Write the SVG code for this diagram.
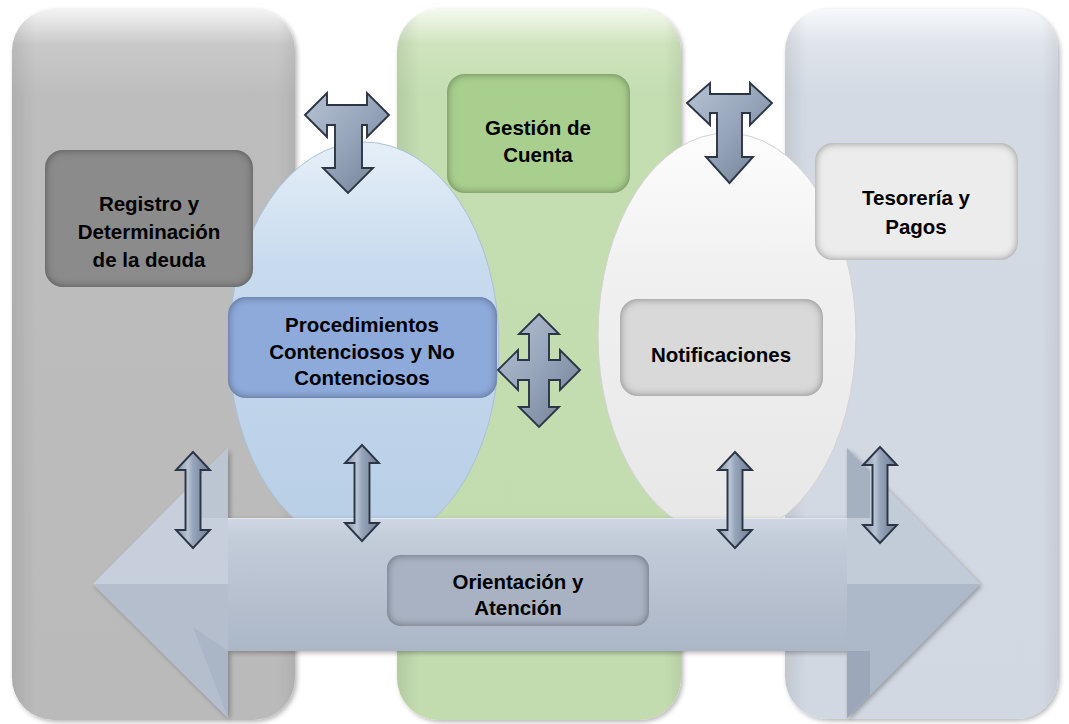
<svg xmlns="http://www.w3.org/2000/svg" xmlns:xlink="http://www.w3.org/1999/xlink" width="1069" height="724" viewBox="0 0 1069 724">
<style>
text{font-family:"Liberation Sans",Arial,sans-serif;font-weight:bold;font-size:20.5px;fill:#000;text-anchor:middle}
.arr{stroke:#2c3545;stroke-width:1.9;stroke-linejoin:miter}
.box{filter:url(#inset)}
</style>
<defs>
<linearGradient id="c1" x1="0" y1="0" x2="0" y2="1">
<stop offset="0" stop-color="#f4f4f4"/><stop offset="0.05" stop-color="#c9c9c9"/><stop offset="0.12" stop-color="#bdbdbd"/><stop offset="1" stop-color="#bababa"/>
</linearGradient>
<linearGradient id="c2" x1="0" y1="0" x2="0" y2="1">
<stop offset="0" stop-color="#f4f9ef"/><stop offset="0.05" stop-color="#cfe4be"/><stop offset="0.12" stop-color="#c4ddb1"/><stop offset="1" stop-color="#c3dcaf"/>
</linearGradient>
<linearGradient id="c3" x1="0" y1="0" x2="0" y2="1">
<stop offset="0" stop-color="#f7f9fb"/><stop offset="0.05" stop-color="#dfe4eb"/><stop offset="0.12" stop-color="#d4dae3"/><stop offset="1" stop-color="#d2d8e1"/>
</linearGradient>
<linearGradient id="side" x1="0" y1="0" x2="1" y2="0">
<stop offset="0" stop-color="#000" stop-opacity="0.08"/><stop offset="0.08" stop-color="#000" stop-opacity="0"/><stop offset="0.94" stop-color="#000" stop-opacity="0"/><stop offset="1" stop-color="#000" stop-opacity="0.06"/>
</linearGradient>
<linearGradient id="eb" x1="0" y1="0" x2="0" y2="1">
<stop offset="0" stop-color="#e6eff8"/><stop offset="0.3" stop-color="#c8dbee"/><stop offset="1" stop-color="#b7cee6"/>
</linearGradient>
<linearGradient id="ew" x1="0" y1="0" x2="0" y2="1">
<stop offset="0" stop-color="#fdfdfd"/><stop offset="0.35" stop-color="#f0f0f0"/><stop offset="1" stop-color="#e7e7e7"/>
</linearGradient>
<linearGradient id="mv" x1="0" y1="0" x2="1" y2="0">
<stop offset="0" stop-color="#8391a7"/><stop offset="0.35" stop-color="#b9c5d5"/><stop offset="0.5" stop-color="#97a5ba"/><stop offset="1" stop-color="#6d7a91"/>
</linearGradient>
<linearGradient id="md" x1="0" y1="0" x2="1" y2="1">
<stop offset="0" stop-color="#b6c2d3"/><stop offset="0.5" stop-color="#96a4b9"/><stop offset="1" stop-color="#6f7c93"/>
</linearGradient>
<linearGradient id="shaft" gradientUnits="userSpaceOnUse" x1="0" y1="518" x2="0" y2="651">
<stop offset="0" stop-color="#cfd7e2"/><stop offset="0.15" stop-color="#c3ccd9"/><stop offset="1" stop-color="#abb6c7"/>
</linearGradient>
<filter id="inset" x="-10%" y="-10%" width="120%" height="120%">
<feFlood flood-color="#000" flood-opacity="0.8" result="f"/>
<feComposite in="f" in2="SourceAlpha" operator="out" result="o"/>
<feGaussianBlur in="o" stdDeviation="4.5" result="b"/>
<feComposite in="b" in2="SourceAlpha" operator="in" result="s"/>
<feMerge><feMergeNode in="SourceGraphic"/><feMergeNode in="s"/></feMerge>
</filter>
<filter id="sh" x="-10%" y="-10%" width="120%" height="120%">
<feGaussianBlur in="SourceAlpha" stdDeviation="2.5"/>
<feOffset dx="2" dy="2" result="b"/>
<feComponentTransfer><feFuncA type="linear" slope="0.3"/></feComponentTransfer>
<feMerge><feMergeNode/><feMergeNode in="SourceGraphic"/></feMerge>
</filter>
<path id="dv" d="M0,-48 L17,-30 L7.5,-30 L7.5,30 L17,30 L0,48 L-17,30 L-7.5,30 L-7.5,-30 L-17,-30 Z"/>
</defs>

<g id="col-registro">
<rect x="12" y="9" width="283" height="711" rx="42" fill="url(#c1)" filter="url(#sh)"/>
<rect x="12" y="9" width="283" height="711" rx="42" fill="url(#side)"/>
</g>
<g id="col-gestion">
<rect x="397" y="9" width="284" height="711" rx="42" fill="url(#c2)" filter="url(#sh)"/>
<rect x="397" y="9" width="284" height="711" rx="42" fill="url(#side)"/>
</g>
<g id="col-tesoreria">
<rect x="785" y="9" width="273" height="710" rx="42" fill="url(#c3)" filter="url(#sh)"/>
<rect x="785" y="9" width="273" height="710" rx="42" fill="url(#side)"/>
</g>

<g id="ellipse-procedimientos">
<ellipse cx="364" cy="345" rx="135" ry="203" fill="url(#eb)" stroke="#a9c0d8" stroke-width="1"/>
</g>
<g id="ellipse-notificaciones">
<ellipse cx="727" cy="335" rx="129" ry="202" fill="url(#ew)" stroke="#d2d2d2" stroke-width="1"/>
</g>

<g id="registro">
<rect class="box" x="45" y="150" width="208" height="137" rx="18" fill="#8b8b8b"/>
<text x="149" y="211">Registro y</text>
<text x="149" y="239">Determinación</text>
<text x="149" y="267">de la deuda</text>
</g>
<g id="gestion">
<rect class="box" x="447" y="74" width="183" height="119" rx="18" fill="#a9cf8e"/>
<text x="538" y="135">Gestión de</text>
<text x="538" y="162">Cuenta</text>
</g>
<g id="tesoreria">
<rect class="box" x="815" y="143" width="203" height="117" rx="18" fill="#ececec"/>
<text x="916" y="205">Tesorería y</text>
<text x="916" y="234">Pagos</text>
</g>
<g id="procedimientos">
<rect class="box" x="228" y="297" width="269" height="101" rx="18" fill="#8eaadb"/>
<text x="362" y="332">Procedimientos</text>
<text x="362" y="359">Contenciosos y No</text>
<text x="362" y="385">Contenciosos</text>
</g>
<g id="notificaciones">
<rect class="box" x="620" y="299" width="203" height="97" rx="18" fill="#d9d9d9"/>
<text x="721" y="362">Notificaciones</text>
</g>

<g id="orientacion">
<path d="M93,584 L228,448 L228,518 L847,518 L847,448 L980,584 L847,718 L847,651 L228,651 L228,718 Z" fill="url(#shaft)" filter="url(#sh)"/>
<polygon points="93,584 228,448 228,584" fill="#c6cfdb"/>
<polygon points="93,584 228,584 228,718" fill="#b4becd"/>
<polygon points="195,482 228,448 228,518 200,518" fill="#bcc6d3"/>
<polygon points="193,627 228,651 228,718" fill="#aab5c5"/>
<polygon points="847,448 980,584 847,584" fill="#c2cbd8"/>
<polygon points="847,584 980,584 847,718" fill="#adb8c8"/>
<polygon points="847,448 870,471 870,518 847,518" fill="#a5b0c1"/>
<polygon points="847,651 870,651 870,695 847,718" fill="#9ca8ba"/>
<rect x="228" y="518" width="619" height="133" fill="url(#shaft)"/>
<line x1="228" y1="518.5" x2="847" y2="518.5" stroke="#e3e8ef" stroke-width="1"/>
<rect class="box" x="387" y="555" width="262" height="71" rx="14" fill="#a9b2c2"/>
<text x="518" y="589">Orientación y</text>
<text x="518" y="615">Atención</text>
</g>

<g id="connectors">
<path class="arr" fill="url(#md)" d="M305,115 L327,93 L327,105 L367,105 L367,93 L389,115 L367,137 L367,125 L362,125 L362,168 L373,168 L348,193 L323,168 L335,168 L335,125 L327,125 L327,137 Z"/>
<path class="arr" fill="url(#md)" d="M687,103 L710,83 L710,94 L750,94 L750,83 L772,103 L750,125 L750,113 L742,113 L742,157 L753,157 L729.5,183 L706,157 L717,157 L717,113 L710,113 L710,125 Z"/>
<path class="arr" fill="url(#md)" d="M539,314 L559,334 L549,334 L549,360 L560,360 L560,350 L580,370 L560,390 L560,380 L549,380 L549,407 L559,407 L539,427 L519,407 L529,407 L529,380 L518,380 L518,390 L498,370 L518,350 L518,360 L529,360 L529,334 L519,334 Z"/>
<use href="#dv" xlink:href="#dv" class="arr" fill="url(#mv)" transform="translate(193,500)"/>
<use href="#dv" xlink:href="#dv" class="arr" fill="url(#mv)" transform="translate(362,493)"/>
<use href="#dv" xlink:href="#dv" class="arr" fill="url(#mv)" transform="translate(735,500)"/>
<use href="#dv" xlink:href="#dv" class="arr" fill="url(#mv)" transform="translate(880,495)"/>
</g>
</svg>
